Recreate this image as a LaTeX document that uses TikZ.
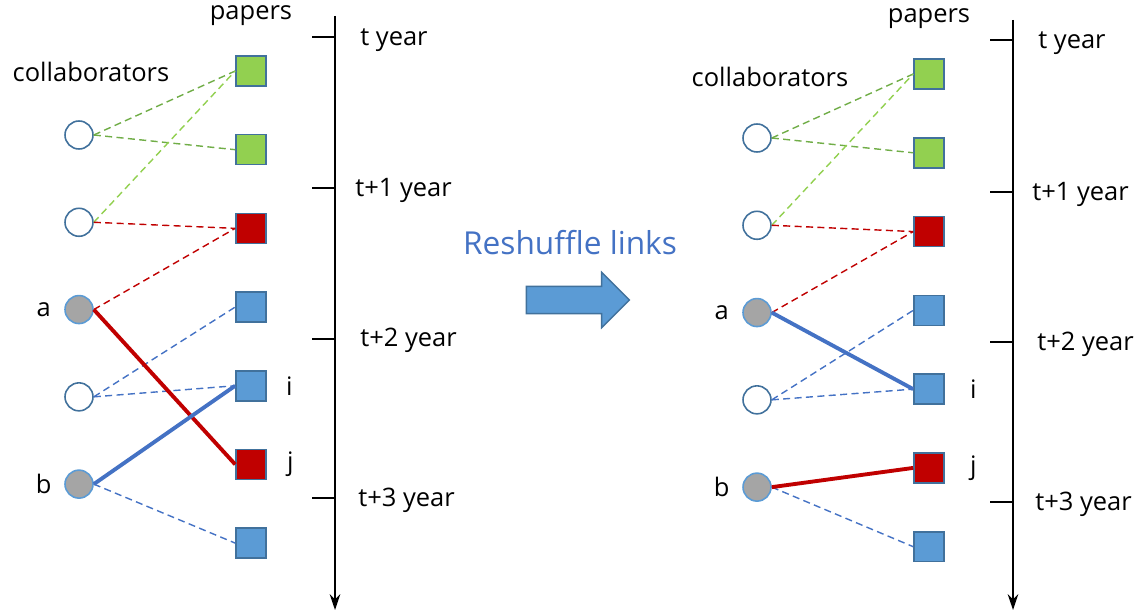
\documentclass[tikz,border=0pt]{standalone}
\usepackage{fontspec}
\setmainfont{Open Sans}
\usetikzlibrary{positioning,arrows.meta,shapes.arrows}

\definecolor{paperblue}{HTML}{5B9BD5}
\definecolor{edgeblue}{HTML}{41719C}
\definecolor{lineblue}{HTML}{4472C4}
\definecolor{paperred}{HTML}{C00000}
\definecolor{papergreen}{HTML}{92D050}
\definecolor{darkgreen}{HTML}{70AD47}
\definecolor{authgrey}{HTML}{A5A5A5}

\tikzset{
  collab/.style={circle, draw=edgeblue, fill=white, line width=0.9pt, minimum size=0.56cm, inner sep=0pt},
  author/.style={collab, draw=paperblue, fill=authgrey},
  paper/.style={rectangle, draw=edgeblue, line width=0.9pt, minimum size=0.6cm, inner sep=0pt},
  link/.style={dash pattern=on 4pt off 2.5pt, line width=0.8pt},
  strong/.style={line width=2.2pt},
  txt/.style={font=\fontsize{14.5}{17}\selectfont, inner sep=0pt},
  timeline/.style={line width=0.9pt, -{Stealth[length=9pt,width=6pt,inset=3pt]}},
}

\begin{document}
\begin{tikzpicture}[x=0.02cm, y=-0.02cm]
  \useasboundingbox (0,0) rectangle (1140,615);

  % left panel
  \node[paper, fill=papergreen] (Lp1) at (251,71) {};
  \node[paper, fill=papergreen] (Lp2) [below of=Lp1, node distance=1.574cm] {};
  \node[paper, fill=paperred]   (Lp3) [below of=Lp2, node distance=1.574cm] {};
  \node[paper, fill=paperblue]  (Lp4) [below of=Lp3, node distance=1.574cm] {};
  \node[paper, fill=paperblue]  (Li)  [below of=Lp4, node distance=1.574cm] {};
  \node[paper, fill=paperred]   (Lj)  [below of=Li,  node distance=1.574cm] {};
  \node[paper, fill=paperblue]  (Lp5) [below of=Lj,  node distance=1.574cm] {};

  \node[collab] (Lc1) at (79,135) {};
  \node[collab] (Lc2) [below of=Lc1, node distance=1.746cm] {};
  \node[author] (La)  [below of=Lc2, node distance=1.746cm] {};
  \node[collab] (Lc3) [below of=La,  node distance=1.746cm] {};
  \node[author] (Lb)  [below of=Lc3, node distance=1.746cm] {};

  \node[txt] (Lpapers) [above of=Lp1, node distance=1.1cm] {papers};
  \node[txt] (Lcollab) [above of=Lc1, node distance=1.26cm, xshift=0.24cm] {collaborators};
  \node[txt, left=0.26cm of La] (La-lab) {a};
  \node[txt, left=0.25cm of Lb] (Lb-lab) {b};
  \node[txt, right=0.38cm of Li] (Li-lab) {i};
  \node[txt, right=0.4cm of Lj] (Lj-lab) {j};

  \draw[link, darkgreen]  (Lc1.east) -- (Lp1.west);
  \draw[link, darkgreen]  (Lc1.east) -- (Lp2.west);
  \draw[link, papergreen] (Lc2.east) -- (Lp1.west);
  \draw[link, paperred]   (Lc2.east) -- (Lp3.west);
  \draw[link, paperred]   (La.east)  -- (Lp3.west);
  \draw[link, lineblue]   (Lc3.east) -- (Lp4.west);
  \draw[link, lineblue]   (Lc3.east) -- (Li.west);
  \draw[link, lineblue]   (Lb.east)  -- (Lp5.west);
  \draw[strong, paperred] (La.east)  -- (Lj.west);
  \draw[strong, lineblue] (Lb.east)  -- (Li.west);

  \coordinate (Ltop) at (335,16);
  \coordinate (Lbot) at (335,610);
  \draw[timeline] (Ltop) -- (Lbot);
  \draw[line width=0.9pt] (335,37) -- ++(-23,0);
  \draw[line width=0.9pt] (335,188) -- ++(-23,0);
  \draw[line width=0.9pt] (335,339) -- ++(-23,0);
  \draw[line width=0.9pt] (335,498) -- ++(-23,0);
  \node[txt, anchor=west] (Ly0) at (360,40) {t year};
  \node[txt, anchor=west] (Ly1) at (355,190) {t+1 year};
  \node[txt, anchor=west] (Ly2) at (360,340) {t+2 year};
  \node[txt, anchor=west] (Ly3) at (358,500) {t+3 year};

  % middle
  \node[txt, font=\fontsize{18}{22}\selectfont, text=lineblue] (shuf) at (570,243) {Reshuffle links};
  \node[single arrow, draw=edgeblue, fill=paperblue, line width=0.8pt, inner sep=0pt,
        minimum height=2.06cm, single arrow head extend=0.28cm]
        (move) at (571,300) {\rule{0pt}{0.52cm}};

  % right panel
  \node[paper, fill=papergreen] (Rp1) at (929,74) {};
  \node[paper, fill=papergreen] (Rp2) [below of=Rp1, node distance=1.576cm] {};
  \node[paper, fill=paperred]   (Rp3) [below of=Rp2, node distance=1.576cm] {};
  \node[paper, fill=paperblue]  (Rp4) [below of=Rp3, node distance=1.576cm] {};
  \node[paper, fill=paperblue]  (Ri)  [below of=Rp4, node distance=1.576cm] {};
  \node[paper, fill=paperred]   (Rj)  [below of=Ri,  node distance=1.576cm] {};
  \node[paper, fill=paperblue]  (Rp5) [below of=Rj,  node distance=1.576cm] {};

  \node[collab] (Rc1) at (757,138) {};
  \node[collab] (Rc2) [below of=Rc1, node distance=1.746cm] {};
  \node[author] (Ra)  [below of=Rc2, node distance=1.746cm] {};
  \node[collab] (Rc3) [below of=Ra,  node distance=1.746cm] {};
  \node[author] (Rb)  [below of=Rc3, node distance=1.746cm] {};

  \node[txt] (Rpapers) [above of=Rp1, node distance=1.1cm] {papers};
  \node[txt] (Rcollab) [above of=Rc1, node distance=1.22cm, xshift=0.26cm] {collaborators};
  \node[txt, left=0.26cm of Ra] (Ra-lab) {a};
  \node[txt, left=0.25cm of Rb] (Rb-lab) {b};
  \node[txt, right=0.5cm of Ri] (Ri-lab) {i};
  \node[txt, right=0.5cm of Rj] (Rj-lab) {j};

  \draw[link, darkgreen]  (Rc1.east) -- (Rp1.west);
  \draw[link, darkgreen]  (Rc1.east) -- (Rp2.west);
  \draw[link, papergreen] (Rc2.east) -- (Rp1.west);
  \draw[link, paperred]   (Rc2.east) -- (Rp3.west);
  \draw[link, paperred]   (Ra.east)  -- (Rp3.west);
  \draw[link, lineblue]   (Rc3.east) -- (Rp4.west);
  \draw[link, lineblue]   (Rc3.east) -- (Ri.west);
  \draw[link, lineblue]   (Rb.east)  -- (Rp5.west);
  \draw[strong, lineblue] (Ra.east)  -- (Ri.west);
  \draw[strong, paperred] (Rb.east)  -- (Rj.west);

  \coordinate (Rtop) at (1013,20);
  \coordinate (Rbot) at (1013,610);
  \draw[timeline] (Rtop) -- (Rbot);
  \draw[line width=0.9pt] (1013,40) -- ++(-23,0);
  \draw[line width=0.9pt] (1013,192) -- ++(-23,0);
  \draw[line width=0.9pt] (1013,342) -- ++(-23,0);
  \draw[line width=0.9pt] (1013,502) -- ++(-23,0);
  \node[txt, anchor=west] (Ry0) at (1038,43) {t year};
  \node[txt, anchor=west] (Ry1) at (1032,194) {t+1 year};
  \node[txt, anchor=west] (Ry2) at (1037,344) {t+2 year};
  \node[txt, anchor=west] (Ry3) at (1035,504) {t+3 year};
\end{tikzpicture}
\end{document}
